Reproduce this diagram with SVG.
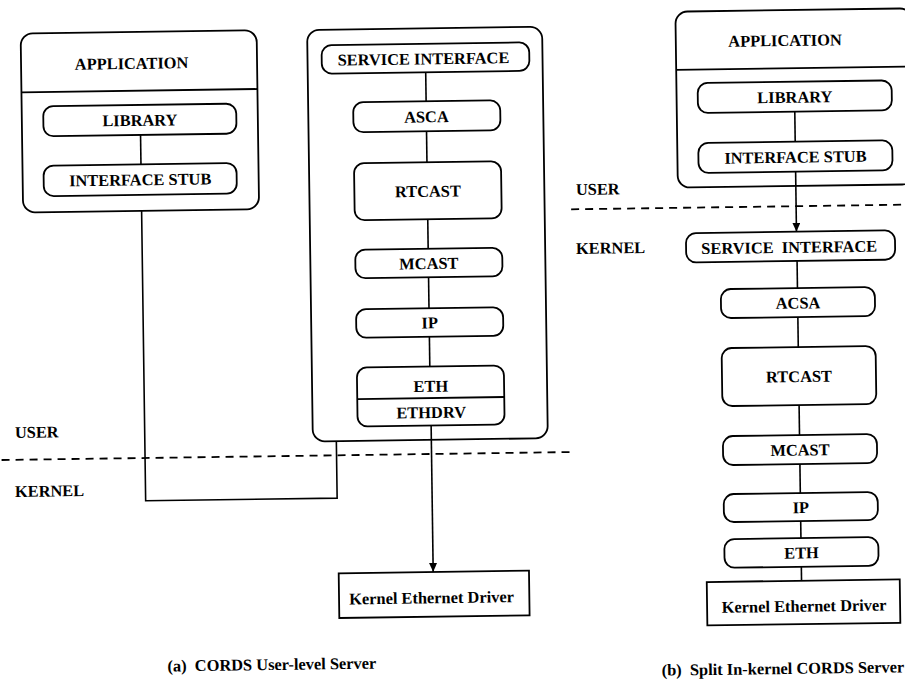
<svg xmlns="http://www.w3.org/2000/svg" width="905" height="689" viewBox="0 0 905 689">
<style>
 .b{fill:none;stroke:#000;stroke-width:1.8}
 .l{fill:none;stroke:#000;stroke-width:1.6}
 .d{fill:none;stroke:#000;stroke-width:1.8;stroke-dasharray:8 6}
 text{font-family:"Liberation Serif","Times New Roman",serif;font-size:16.4px;font-weight:bold;fill:#000}
 .m{text-anchor:middle}
</style>
<defs>
 <marker id="ah" markerWidth="10" markerHeight="10" refX="9" refY="4" orient="auto" markerUnits="userSpaceOnUse"><path d="M0,0 L9,4 L0,8 z" fill="#000"/></marker>
</defs>
<rect width="905" height="689" fill="#fff"/>
<g transform="rotate(-0.8 452 344)">
 <g id="boundaries">
  <path class="d" d="M0,453.7 H574"/>
  <path class="d" d="M573,211 H912"/>
  <text x="13.7" y="431.9">USER</text>
  <text x="12.9" y="490.9">KERNEL</text>
  <text x="578" y="196.7">USER</text>
  <text x="577.3" y="255.7">KERNEL</text>
 </g>
 <g id="connectors">
  <path class="l" d="M143.5,130.6 V160"/>
  <path class="l" d="M143.5,206.5 V496.5 H335 V439.5"/>
  <path class="l" d="M429.5,71.9 V101"/>
  <path class="l" d="M429.5,131 V162"/>
  <path class="l" d="M429.5,219 V248.5"/>
  <path class="l" d="M429.5,277 V308"/>
  <path class="l" d="M429.5,336.5 V366.2"/>
  <path class="l" d="M430,425.2 V571.7" marker-end="url(#ah)"/>
  <path class="l" d="M798,116.5 V146.5"/>
  <path class="l" d="M798,176.5 V236.5" marker-end="url(#ah)"/>
  <path class="l" d="M798.2,265.8 V292.9"/>
  <path class="l" d="M798.2,321.9 V351.9"/>
  <path class="l" d="M798.2,409.9 V439.9"/>
  <path class="l" d="M798.2,468.9 V497.9"/>
  <path class="l" d="M798.2,525.9 V543"/>
  <path class="l" d="M798.2,571.6 V585.6"/>
 </g>
 <g id="app-a">
  <rect class="b" x="25" y="27.5" width="236" height="179" rx="12"/>
  <path class="b" d="M25,86.3 H261"/>
  <text class="m" x="135.5" y="64.5">APPLICATION</text>
 </g>
 <g id="library-a">
  <rect class="b" x="46.5" y="100.6" width="193" height="30" rx="10"/>
  <text class="m" x="143" y="121.5">LIBRARY</text>
 </g>
 <g id="stub-a">
  <rect class="b" x="46" y="160" width="193" height="30.5" rx="10"/>
  <text class="m" x="142.5" y="181">INTERFACE STUB</text>
 </g>
 <g id="server-a">
  <rect class="b" x="311.5" y="28" width="235" height="411.5" rx="12"/>
 </g>
 <g id="si-a">
  <rect class="b" x="325.7" y="43.4" width="207.6" height="28.5" rx="10"/>
  <text class="m" x="427.4" y="64">SERVICE INTERFACE</text>
 </g>
 <g id="asca-a">
  <rect class="b" x="356.5" y="101" width="147" height="30" rx="10"/>
  <text class="m" x="429.6" y="122">ASCA</text>
 </g>
 <g id="rtcast-a">
  <rect class="b" x="356.5" y="162" width="147" height="57" rx="10"/>
  <text class="m" x="430" y="196.5">RTCAST</text>
 </g>
 <g id="mcast-a">
  <rect class="b" x="356.5" y="248.5" width="147" height="28.5" rx="10"/>
  <text class="m" x="430" y="268.7">MCAST</text>
 </g>
 <g id="ip-a">
  <rect class="b" x="356.5" y="308" width="147" height="28.5" rx="10"/>
  <text class="m" x="430" y="328">IP</text>
 </g>
 <g id="eth-a">
  <rect class="b" x="356.5" y="366.2" width="147" height="59" rx="10"/>
  <path class="b" d="M356.5,397.7 H503.5"/>
  <text class="m" x="430.2" y="391.4">ETH</text>
  <text class="m" x="430.2" y="417.7">ETHDRV</text>
 </g>
 <g id="ked-a">
  <rect class="b" x="335.5" y="571.7" width="190.3" height="44.7"/>
  <text class="m" x="428" y="603">Kernel Ethernet Driver</text>
 </g>
 <g id="app-b">
  <rect class="b" x="680" y="14.8" width="236.4" height="176" rx="12"/>
  <path class="b" d="M680,73 H916.4"/>
  <text class="m" x="789.2" y="50.7">APPLICATION</text>
 </g>
 <g id="library-b">
  <rect class="b" x="701.2" y="86.5" width="194" height="30" rx="10"/>
  <text class="m" x="798.2" y="107.5">LIBRARY</text>
 </g>
 <g id="stub-b">
  <rect class="b" x="701" y="146.5" width="194" height="30" rx="10"/>
  <text class="m" x="798" y="167.5">INTERFACE STUB</text>
 </g>
 <g id="si-b">
  <rect class="b" x="687.4" y="236.5" width="209" height="29.3" rx="10"/>
  <text class="m" x="790.5" y="257.6" xml:space="preserve">SERVICE  INTERFACE</text>
 </g>
 <g id="acsa-b">
  <rect class="b" x="721.5" y="292.9" width="154" height="29" rx="10"/>
  <text class="m" x="798.5" y="313.4">ACSA</text>
 </g>
 <g id="rtcast-b">
  <rect class="b" x="721.5" y="351.9" width="154" height="58" rx="10"/>
  <text class="m" x="798.5" y="386.9">RTCAST</text>
 </g>
 <g id="mcast-b">
  <rect class="b" x="721.5" y="439.9" width="154" height="29" rx="10"/>
  <text class="m" x="798.5" y="460.4">MCAST</text>
 </g>
 <g id="ip-b">
  <rect class="b" x="721.5" y="497.9" width="154" height="28" rx="10"/>
  <text class="m" x="798.5" y="517.9">IP</text>
 </g>
 <g id="eth-b">
  <rect class="b" x="721.5" y="543" width="154" height="28.6" rx="10"/>
  <text class="m" x="798.5" y="563.3">ETH</text>
 </g>
 <g id="ked-b">
  <rect class="b" x="703.4" y="585.6" width="193" height="43.4"/>
  <text class="m" x="800.4" y="616.5">Kernel Ethernet Driver</text>
 </g>
 <g id="captions">
  <text class="m" x="267.4" y="667.5" xml:space="preserve">(a)  CORDS User-level Server</text>
  <text class="m" x="778.4" y="678.6" xml:space="preserve">(b)  Split In-kernel CORDS Server</text>
 </g>
</g>
</svg>
